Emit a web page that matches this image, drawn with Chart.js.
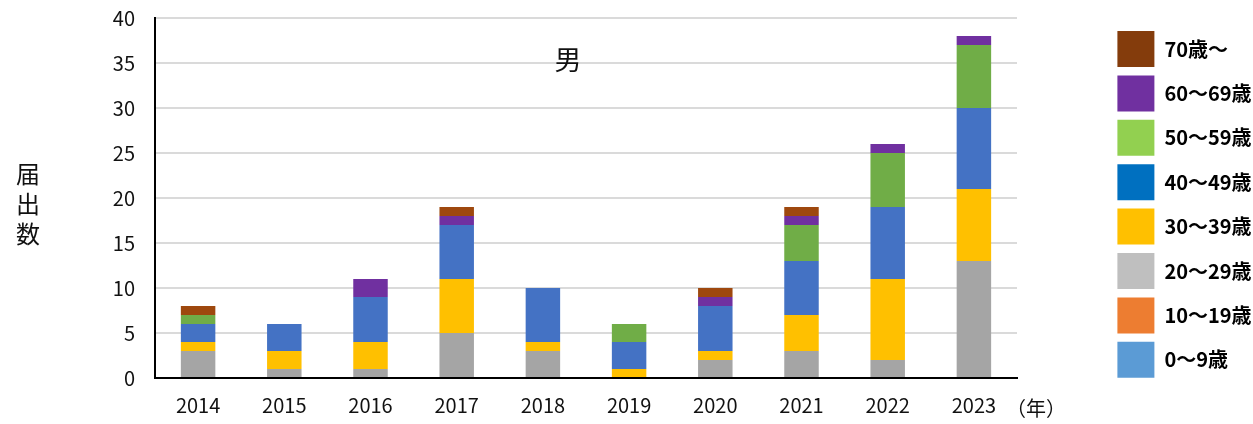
<!DOCTYPE html>
<html lang="ja">
<head>
<meta charset="UTF-8">
<title>届出数（男）</title>
<script src="https://cdn.jsdelivr.net/npm/chart.js@4/dist/chart.umd.min.js"></script>
<style>
    html, body { margin: 0; padding: 0; background: #fff; }
    #wrap { width: 1253px; height: 424px; }
</style>
</head>
<body>
<div id="wrap"><canvas id="chart" width="1253" height="424"></canvas></div>
<script>
// ✅ データ
const years = ["2014", "2015", "2016", "2017", "2018", "2019", "2020", "2021", "2022", "2023"];
const ageLabels = ["0～9歳", "10～19歳", "20～29歳", "30～39歳", "40～49歳", "50～59歳", "60～69歳", "70歳～"];

const age0 = [0, 0, 0, 0, 0, 0, 0, 0, 0, 0];
const age10 = [0, 0, 0, 0, 0, 0, 0, 0, 0, 0];
const age20 = [3, 1, 1, 5, 3, 0, 2, 3, 2, 13];
const age30 = [1, 2, 3, 6, 1, 1, 1, 4, 9, 8];
const age40 = [2, 3, 5, 6, 6, 3, 5, 6, 8, 9];
const age50 = [1, 0, 0, 0, 0, 2, 0, 4, 6, 7];
const age60 = [0, 0, 2, 1, 0, 0, 1, 1, 1, 1];
const age70 = [1, 0, 0, 1, 0, 0, 1, 1, 0, 0];

const yTicks = [0, 5, 10, 15, 20, 25, 30, 35, 40];

// 棒の色と凡例の色（元の図では少し違う）
const barColors = ["#5B9BD5", "#ED7D31", "#A5A5A5", "#FFC000", "#4472C4", "#70AD47", "#7030A0", "#9E480E"];
const legendColors = ["#5B9BD5", "#ED7D31", "#BFBFBF", "#FFC000", "#0070C0", "#92D050", "#7030A0", "#843C0C"];

const seriesList = [age0, age10, age20, age30, age40, age50, age60, age70];
const FONT = "'Noto Sans CJK JP', 'Noto Sans', sans-serif";

// ✅ 凡例の位置調整
const legendShift = {
    id: "legendShift",
    beforeLayout(chart) {
        const lg = chart.legend;
        if (lg && !lg._patched) {
            const fit = lg.fit;
            lg.fit = function () {
                fit.call(this);
                this.width = 236;
            };
            lg._patched = true;
        }
    },
    afterLayout(chart) {
        const lg = chart.legend;
        lg.left = chart.chartArea.right + 92;
        lg.top = 408.8 - lg.bottom;
    }
};

// ✅ タイトル、軸タイトル、（年）
const extraText = {
    id: "extraText",
    afterDraw(chart) {
        const ctx = chart.ctx;
        const area = chart.chartArea;
        ctx.save();
        ctx.fillStyle = "#111";
        ctx.textAlign = "center";
        ctx.textBaseline = "middle";

        ctx.font = "27px " + FONT;
        ctx.fillText("男", 568, area.top + 42);

        ctx.font = "24px " + FONT;
        const midY = (area.top + area.bottom) / 2;
        ["届", "出", "数"].forEach((ch, i) => {
            ctx.fillText(ch, 28, midY + 6 + (i - 1) * 30);
        });

        ctx.font = "20px " + FONT;
        ctx.fillText("（年）", area.right + 19, 408);
        ctx.restore();
    }
};

function makeDatasets() {
    return ageLabels.map((label, i) => ({
        label: label,
        data: seriesList[i],
        backgroundColor: barColors[i],
        borderWidth: 0,
        barPercentage: 0.4,
        categoryPercentage: 1.0
    }));
}

function drawChart() {
    const ctx = document.getElementById("chart").getContext("2d");

    new Chart(ctx, {
        type: "bar",
        data: {
            labels: years,
            datasets: makeDatasets()
        },
        options: {
            responsive: false,
            animation: false,
            layout: {
                padding: { top: 18, left: 0, right: 0, bottom: 0 }
            },
            plugins: {
                tooltip: { enabled: false },
                legend: {
                    position: "right",
                    reverse: true,
                    labels: {
                        boxWidth: 37,
                        boxHeight: 36,
                        padding: 8.4,
                        color: "#1a1a1a",
                        font: { family: FONT, size: 20, weight: "bold" },
                        generateLabels: (chart) =>
                            chart.data.datasets.map((ds, i) => ({
                                text: ds.label,
                                fillStyle: legendColors[i],
                                strokeStyle: legendColors[i],
                                lineWidth: 0,
                                hidden: false,
                                datasetIndex: i
                            }))
                    }
                }
            },
            scales: {
                x: {
                    stacked: true,
                    grid: { display: false, drawTicks: false },
                    border: { display: true, color: "#000", width: 2 },
                    ticks: {
                        color: "#111",
                        padding: 15,
                        font: { family: FONT, size: 20 }
                    },
                    afterFit(scale) {
                        scale.height = 46;
                    }
                },
                y: {
                    stacked: true,
                    min: yTicks[0],
                    max: yTicks[yTicks.length - 1],
                    grid: {
                        color: "#dadada",
                        lineWidth: 2,
                        drawTicks: true,
                        tickLength: 20,
                        tickColor: "rgba(0,0,0,0)"
                    },
                    border: { display: true, color: "#000", width: 2 },
                    ticks: {
                        stepSize: 5,
                        color: "#111",
                        padding: 0,
                        font: { family: FONT, size: 20 }
                    },
                    afterFit(scale) {
                        scale.width = 155;
                    }
                }
            }
        },
        plugins: [legendShift, extraText]
    });
}

drawChart();
</script>
</body>
</html>
